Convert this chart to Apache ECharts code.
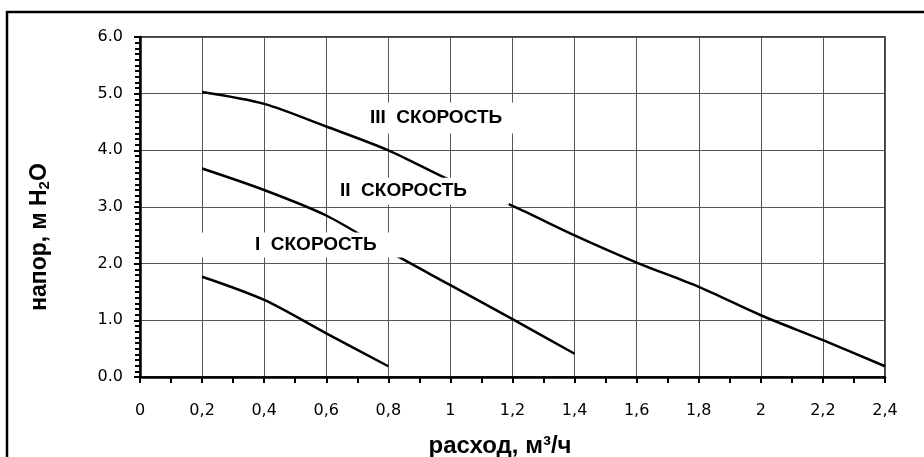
<!DOCTYPE html>
<html>
<head>
<meta charset="utf-8">
<script src="https://cdn.jsdelivr.net/npm/echarts@6/dist/echarts.min.js"></script>
<style>
  html, body { margin: 0; padding: 0; background: #fff; }
  #chart { width: 924px; height: 457px; }
</style>
</head>
<body>
<div id="chart"></div>
<script>
// характеристики насоса (расход м3/ч -> напор м)
const flowIII = [0.2, 0.4, 0.6, 0.8, 1.0, 1.2, 1.4, 1.6, 1.8, 2.0, 2.2, 2.4];
const headIII = [5.03, 4.82, 4.42, 4.0, 3.47, 3.02, 2.5, 2.02, 1.59, 1.09, 0.65, 0.19];
const flowII = [0.2, 0.4, 0.6, 0.8, 1.0, 1.2, 1.4];
const headII = [3.68, 3.3, 2.85, 2.22, 1.62, 1.02, 0.41];
const flowI = [0.2, 0.4, 0.6, 0.8];
const headI = [1.77, 1.36, 0.77, 0.19];

// подписи скоростей (левый край плашки, в координатах графика)
const speedNames = ["III  СКОРОСТЬ", "II  СКОРОСТЬ", "I  СКОРОСТЬ"];
const speedX = [0.715, 0.612, 0.177];
const speedY = [4.57, 3.28, 2.33];

const xMin = 0, xMax = 2.4, xStep = 0.2;
const yMin = 0, yMax = 6, yStep = 1;

const pairs = (xs, ys) => xs.map((x, i) => [x, ys[i]]);

const chart = echarts.init(document.getElementById("chart"));

const curve = (name, xs, ys) => ({
  name: name,
  type: "line",
  data: pairs(xs, ys),
  showSymbol: false,
  smooth: 0.3,
  z: 3,
  lineStyle: { color: "#000", width: 2.5 },
});

// отступы белой плашки под подписью
const labelPads = [
  [6, 30, 6, 8],
  [4, 42, 4, 10],
  [3, 26, 3, 60],
];

var option = {
  backgroundColor: "#fff",
  animation: false,
  grid: {
    left: 140,
    right: 39,
    top: 37,
    bottom: 80,
    outerBoundsMode: "none",
    show: true,
    borderColor: "#000",
    borderWidth: 1.5,
  },
  xAxis: {
    type: "value",
    min: xMin,
    max: xMax,
    interval: xStep,
    name: "расход, м³/ч",
    nameLocation: "middle",
    nameGap: 57,
    nameTextStyle: {
      fontFamily: "Liberation Sans, Arial",
      fontWeight: "bold",
      fontSize: 24,
      color: "#000",
      padding: [0, 25, 0, 0],
    },
    axisLine: { lineStyle: { color: "#000", width: 2.5 } },
    axisTick: { show: true, length: 6, lineStyle: { color: "#000", width: 2 } },
    minorTick: { show: true, splitNumber: 2, length: 6, lineStyle: { color: "#000", width: 2 } },
    splitLine: { show: true, lineStyle: { color: "#555", width: 1 } },
    axisLabel: {
      margin: 26,
      fontFamily: "DejaVu Sans",
      fontSize: 16,
      color: "#000",
      formatter: (v) => String(+v.toFixed(1)).replace(".", ","),
    },
  },
  yAxis: {
    type: "value",
    min: yMin,
    max: yMax,
    interval: yStep,
    axisLine: { show: true, lineStyle: { color: "#000", width: 2.5 } },
    axisTick: { show: true, length: 6, lineStyle: { color: "#000", width: 2 } },
    minorTick: { show: true, splitNumber: 10, length: 5, lineStyle: { color: "#000", width: 2 } },
    splitLine: { show: true, lineStyle: { color: "#555", width: 1 } },
    axisLabel: {
      margin: 17,
      fontFamily: "DejaVu Sans",
      fontSize: 16,
      color: "#000",
      formatter: (v) => v.toFixed(1),
    },
  },
  graphic: [
    {
      type: "rect",
      shape: { x: 7, y: 12, width: 940, height: 470 },
      style: { fill: null, stroke: "#000", lineWidth: 2.5 },
      silent: true,
    },
    {
      type: "text",
      x: 40,
      y: 237,
      rotation: Math.PI / 2,
      style: {
        text: "{n|напор, м H}{s|2}{n|O}",
        align: "center",
        verticalAlign: "middle",
        rich: {
          n: { fontFamily: "Liberation Sans, Arial", fontWeight: "bold", fontSize: 23, fill: "#000", lineHeight: 25 },
          s: { fontFamily: "Liberation Sans, Arial", fontWeight: "bold", fontSize: 15, fill: "#000", verticalAlign: "bottom", lineHeight: 8 },
        },
      },
    },
  ],
  series: [
    curve("III", flowIII, headIII),
    curve("II", flowII, headII),
    curve("I", flowI, headI),
    {
      name: "labels",
      type: "scatter",
      symbolSize: 0,
      z: 10,
      silent: true,
      itemStyle: { opacity: 1 },
      data: speedNames.map((t, i) => ({
        value: [speedX[i], speedY[i]],
        name: t,
        label: { padding: labelPads[i] },
      })),
      label: {
        show: true,
        position: "inside",
        align: "left",
        verticalAlign: "middle",
        formatter: (p) => p.name,
        fontFamily: "Liberation Sans, Arial",
        fontWeight: "bold",
        fontSize: 19,
        color: "#000",
        backgroundColor: "#fff",
      },
    },
  ],
};
chart.setOption(option);
</script>
</body>
</html>
